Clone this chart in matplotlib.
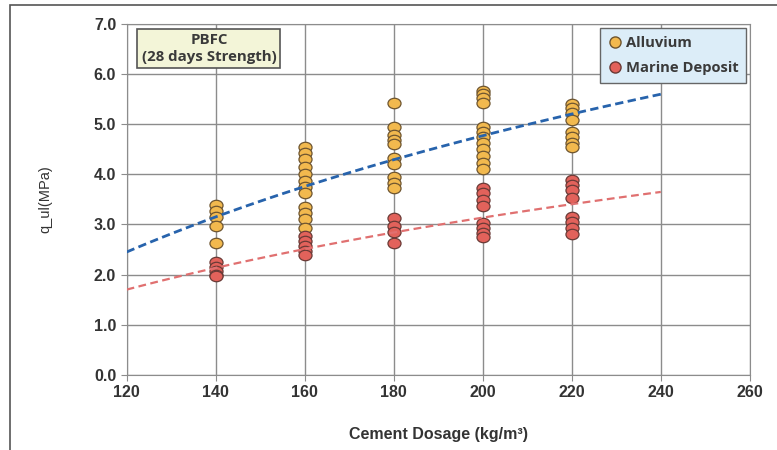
import numpy as np
import matplotlib.pyplot as plt
from matplotlib.patches import Rectangle
from matplotlib.path import Path
from matplotlib.transforms import Affine2D
from matplotlib.markers import MarkerStyle

# data
dosage = [140, 160, 180, 200, 220]
alluvium = {
    140: [3.38, 3.27, 3.15, 2.97, 2.63],
    160: [4.55, 4.42, 4.30, 4.15, 4.00, 3.87, 3.75, 3.62, 3.35, 3.23, 3.10, 2.92],
    180: [5.43, 4.95, 4.78, 4.68, 4.60, 4.33, 4.20, 3.95, 3.83, 3.73],
    200: [5.67, 5.60, 5.52, 5.43, 4.95, 4.85, 4.75, 4.63, 4.50, 4.36, 4.23, 4.10],
    220: [5.40, 5.32, 5.23, 5.09, 4.85, 4.75, 4.63, 4.55],
}
marine = {
    140: [2.25, 2.15, 2.07, 2.00, 1.97],
    160: [2.77, 2.66, 2.56, 2.47, 2.40],
    180: [3.12, 2.97, 2.85, 2.63],
    200: [3.72, 3.62, 3.48, 3.36, 3.02, 2.93, 2.83, 2.75],
    220: [3.88, 3.79, 3.69, 3.53, 3.14, 3.04, 2.93, 2.80],
}
# logarithmic trendlines: y = a*ln(x) + b, drawn from 120 to 240
trend_range = [120, 240]
alluvium_fit = [4.54, 2.45 - 4.54 * np.log(120)]
marine_fit = [2.81, 1.70 - 2.81 * np.log(120)]

c_all = '#f2b94e'
c_mar = '#e2625b'
ell = MarkerStyle(Path.unit_circle().transformed(Affine2D().scale(1.0, 0.8)))

fig = plt.figure(figsize=(7.77, 4.5), dpi=100)
ax = fig.add_axes([0.163, 0.167, 0.802, 0.780])

for x in dosage:
    ax.plot([x] * len(alluvium[x]), alluvium[x], ls='', marker=ell, ms=9.4, mfc=c_all,
            mec='#6e5530', mew=0.9, zorder=3)
    ax.plot([x] * len(marine[x]), marine[x], ls='', marker=ell, ms=9.4, mfc=c_mar,
            mec='#6a3a36', mew=0.9, zorder=3)

xt = np.linspace(trend_range[0], trend_range[1], 100)
ax.plot(xt, alluvium_fit[0] * np.log(xt) + alluvium_fit[1], '--', color='#2763ac',
        lw=2.0, dashes=(3, 1.6), zorder=4)
ax.plot(xt, marine_fit[0] * np.log(xt) + marine_fit[1], '--', color='#e07070',
        lw=1.6, dashes=(3.5, 2), zorder=4)

ax.set_xlim(120, 260)
ax.set_ylim(0, 7)
ax.set_xticks(range(120, 261, 20))
ax.set_yticks(np.arange(0, 7.01, 1.0))
ax.set_yticklabels(['%.1f' % v for v in np.arange(0, 7.01, 1.0)])
ax.grid(True, color='#8c8c8c', lw=1.0)
ax.set_axisbelow(True)
for s in ax.spines.values():
    s.set_color('#8c8c8c')
ax.tick_params(colors='#333333', labelsize=11.5, length=4, color='#8c8c8c')
for lab in ax.get_xticklabels() + ax.get_yticklabels():
    lab.set_fontweight('bold')
    lab.set_family('Liberation Sans')
ax.set_xlabel('Cement Dosage (kg/m³)', fontsize=11.5, fontweight='bold',
              family='Liberation Sans', color='#333333', labelpad=19)
ax.set_ylabel('q_ul(MPa)', fontsize=10.5, family='Liberation Sans',
              color='#333333', labelpad=30)

# text box
ax.text(0.132, 0.93, 'PBFC\n(28 days Strength)', transform=ax.transAxes,
        ha='center', va='center', fontsize=10.8, fontweight='bold', family='Open Sans',
        color='#3a3a3a', linespacing=1.2,
        bbox=dict(boxstyle='square,pad=0.28', fc='#f3f5d8', ec='#555555', lw=1.2),
        zorder=6)

# legend
leg = ax.legend(handles=[
    plt.Line2D([], [], ls='', marker='o', ms=8, mfc=c_all, mec='#6e5530', label='Alluvium'),
    plt.Line2D([], [], ls='', marker='o', ms=8, mfc=c_mar, mec='#6a3a36', label='Marine Deposit')],
    loc='upper right', bbox_to_anchor=(0.999, 0.997), handletextpad=0.2, handlelength=1.0,
    borderpad=0.55, labelspacing=0.75, fancybox=False, framealpha=1.0, borderaxespad=0.2,
    prop={'family': 'Open Sans', 'weight': 'bold', 'size': 10.6})
leg.get_frame().set_facecolor('#dcedf8')
leg.get_frame().set_edgecolor('#666666')
for t in leg.get_texts():
    t.set_color('#3a3a3a')

fig.patches.append(Rectangle((0.013, -0.01), 1.0, 0.999, transform=fig.transFigure,
                             fill=False, ec='#555555', lw=1.2))

fig.savefig('out.png', dpi=100)
